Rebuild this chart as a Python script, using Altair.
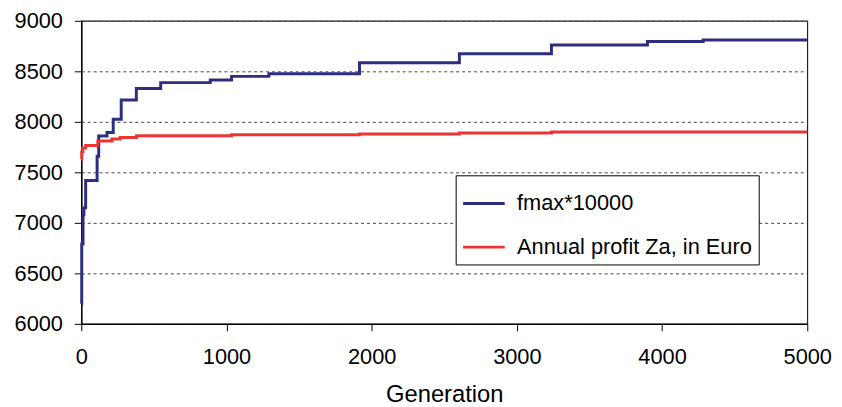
import altair as alt
import pandas as pd

series_names = ["fmax*10000", "Annual profit Za, in Euro"]

fmax_gen = [0, 3, 12, 18, 30, 109, 120, 177, 220, 275, 379, 547, 888, 1035, 1292, 1916, 2604, 3238, 3899, 4283, 5000]
fmax_val = [6200, 6790, 7080, 7150, 7420, 7660, 7860, 7895, 8025, 8215, 8330, 8388, 8415, 8450, 8475, 8585, 8675, 8760, 8795, 8810, 8810]

profit_gen = [0, 3, 10, 30, 114, 211, 268, 381, 1035, 1916, 2604, 3238, 5000]
profit_val = [7630, 7700, 7740, 7765, 7810, 7830, 7845, 7862, 7873, 7880, 7890, 7900, 7900]

x_ticks = [0, 1000, 2000, 3000, 4000, 5000]
y_ticks = [6000, 6500, 7000, 7500, 8000, 8500, 9000]

df = pd.concat([
    pd.DataFrame({"Generation": fmax_gen, "value": fmax_val, "series": series_names[0], "k": 0}),
    pd.DataFrame({"Generation": profit_gen, "value": profit_val, "series": series_names[1], "k": 1}),
])

FONT = "Liberation Sans"

chart = alt.Chart(df).mark_line(interpolate="step-after", strokeWidth=3).encode(
    x=alt.X("Generation:Q",
            scale=alt.Scale(domain=[0, 5000], nice=False, zero=False),
            axis=alt.Axis(values=x_ticks, title="Generation", grid=False, format="d",
                          labelFlush=False, labelOverlap=False,
                          labelPadding=16, titlePadding=15)),
    y=alt.Y("value:Q",
            scale=alt.Scale(domain=[6000, 9000], nice=False, zero=False),
            axis=alt.Axis(values=y_ticks, title=None, grid=True, format="d",
                          labelFlush=False, labelOverlap=False,
                          gridDash=[3, 3], gridColor="#444444", gridWidth=1,
                          labelPadding=12)),
    color=alt.Color("series:N",
                    scale=alt.Scale(domain=series_names, range=["#2E2E80", "#EE3333"]),
                    sort=series_names,
                    legend=alt.Legend(title=None, orient="none", legendX=378, legendY=156,
                                      symbolType="stroke", symbolSize=1764, symbolStrokeWidth=3,
                                      labelFontSize=22, labelFont=FONT, labelColor="black",
                                      labelLimit=500,
                                      labelOffset=11, rowPadding=10, padding=6,
                                      fillColor="white", strokeColor="black")),
    detail="k:N",
).properties(
    width=733,
    height=306,
    autosize=alt.AutoSizeParams(type="none"),
    padding={"left": 74, "top": 11, "right": 27, "bottom": 82},
).configure_view(
    stroke="#222222", strokeWidth=1.2
).configure_axis(
    domainColor="black", domainWidth=1.5,
    tickColor="black", tickSize=7, tickWidth=1,
    labelFont=FONT, labelFontSize=22, labelColor="black",
    titleFont=FONT, titleFontSize=24, titleFontWeight="normal", titleColor="black",
)

chart.save("out.html", embed_options={"renderer": "svg", "actions": False})
